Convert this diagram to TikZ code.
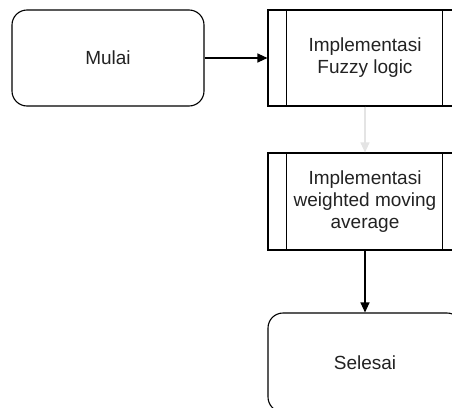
\documentclass[tikz,border=0pt]{standalone}
\usepackage{fontspec}
\setmainfont{Liberation Sans}
\usetikzlibrary{arrows.meta}
\definecolor{lightarrow}{HTML}{E4E4E4}
\definecolor{txt}{HTML}{222222}
\begin{document}
\begin{tikzpicture}[x=1pt,y=-1pt,line width=1.1pt,
  term/.style={draw, rounded corners=15pt, minimum width=192pt, minimum height=96pt, align=center, inner sep=0pt, text=txt, font=\fontsize{19}{22}\selectfont},
  proc/.style={draw, minimum width=194pt, minimum height=96pt, align=center, inner sep=0pt, text=txt, font=\fontsize{19}{22}\selectfont},
  arr/.style={-{Triangle[length=10pt,width=9pt]}}]
\useasboundingbox (0,0) rectangle (452,407);
\clip (0,0) rectangle (452,407);
\node[term] (mulai) at (108,58) {Mulai};
\node[proc] (fuzzy) at (365,58) {Implementasi\\Fuzzy logic};
\draw ([xshift=19pt]fuzzy.north west) -- ([xshift=19pt]fuzzy.south west);
\draw ([xshift=-20pt]fuzzy.north east) -- ([xshift=-20pt]fuzzy.south east);
\node[proc, minimum height=97pt] (wma) at (365,201.5) {Implementasi\\weighted moving\\average};
\draw ([xshift=19pt]wma.north west) -- ([xshift=19pt]wma.south west);
\draw ([xshift=-20pt]wma.north east) -- ([xshift=-20pt]wma.south east);
\node[term, minimum width=194pt, minimum height=99pt] (selesai) at (365,362.5) {Selesai};
\draw[arr] (mulai) -- (fuzzy);
\draw[arr, draw=lightarrow, fill=lightarrow] (fuzzy) -- (wma);
\draw[arr] (wma) -- (selesai);
\end{tikzpicture}
\end{document}
